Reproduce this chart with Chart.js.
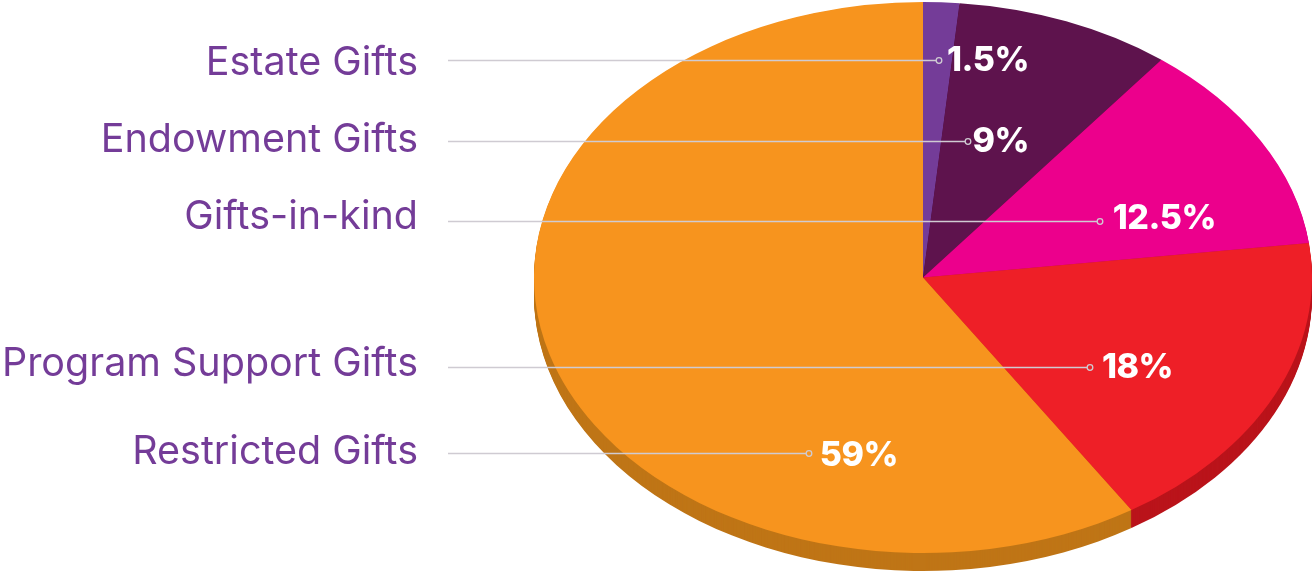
<!DOCTYPE html>
<html>
<head>
<meta charset="utf-8">
<title>Gifts</title>
<script src="https://cdn.jsdelivr.net/npm/chart.js@4"></script>
<style>
  html, body { margin: 0; padding: 0; background: #fff; }
  #wrap { width: 1312px; height: 572px; position: relative; overflow: hidden; }
</style>
</head>
<body>
<div id="wrap"><canvas id="pie" width="1312" height="572"></canvas></div>
<script>
const categories = ['Estate Gifts', 'Endowment Gifts', 'Gifts-in-kind', 'Program Support Gifts', 'Restricted Gifts'];
const shares = [1.5, 9, 12.5, 18, 59];
const shareLabels = ['1.5%', '9%', '12.5%', '18%', '59%'];
const sliceColors = ['#743C98', '#5E134D', '#EC008C', '#EE1F27', '#F7941E'];
const wallColors = ['#5A2D78', '#470E3A', '#B8006C', '#BA141B', '#BF7516'];

// annotation layout, not data
const leaderY = [60, 141, 221, 367, 453];
const leaderEndX = [939, 968, 1100, 1090, 809];
const labelBaseline = [75, 152, 229, 376, 464];
const shareRightX = [1029, 1029, 1216, 1173, 898];
const shareBaseline = [71, 151.5, 228.5, 378, 466];
const X_SQUASH = 389 / 275.5; // the pie is an ellipse, wider than tall
const DEPTH = 18;

function stretch(ctx, arc) {
  ctx.translate(arc.x, arc.y);
  ctx.scale(X_SQUASH, 1);
  ctx.translate(-arc.x, -arc.y);
}

const ellipsePlugin = {
  id: 'ellipse',
  beforeDatasetsDraw(chart) {
    const { ctx } = chart;
    const arcs = chart.getDatasetMeta(0).data;
    // extruded wall, swept down so the seams stay vertical
    arcs.forEach((arc, i) => {
      ctx.save();
      ctx.fillStyle = wallColors[i];
      for (let dy = DEPTH; dy >= 1; dy--) {
        ctx.save();
        ctx.translate(0, dy);
        stretch(ctx, arc);
        ctx.beginPath();
        ctx.moveTo(arc.x, arc.y);
        ctx.arc(arc.x, arc.y, arc.outerRadius, arc.startAngle, arc.endAngle);
        ctx.closePath();
        ctx.fill();
        ctx.restore();
      }
      ctx.restore();
    });
    ctx.save();
    stretch(ctx, arcs[0]);
  },
  afterDatasetsDraw(chart) {
    const { ctx } = chart;
    ctx.restore();
    ctx.save();
    categories.forEach((name, i) => {
      const y = leaderY[i], endX = leaderEndX[i];
      ctx.strokeStyle = '#CFCBD2';
      ctx.lineWidth = 1.3;
      ctx.beginPath();
      ctx.moveTo(448, y + 0.5);
      ctx.lineTo(endX - 3, y + 0.5);
      ctx.stroke();
      ctx.beginPath();
      ctx.arc(endX, y + 0.5, 2.8, 0, Math.PI * 2);
      ctx.stroke();

      ctx.fillStyle = '#743C98';
      ctx.font = '400 39.5px Inter';
      ctx.letterSpacing = '0px';
      ctx.textAlign = 'right';
      ctx.textBaseline = 'alphabetic';
      ctx.fillText(name, 418, labelBaseline[i]);

      ctx.fillStyle = '#fff';
      ctx.font = '800 34px Inter';
      ctx.letterSpacing = '-0.5px';
      ctx.textAlign = 'right';
      ctx.fillText(shareLabels[i], shareRightX[i], shareBaseline[i]);
    });
    ctx.restore();
  }
};

new Chart(document.getElementById('pie'), {
  type: 'pie',
  data: {
    labels: categories,
    datasets: [{ data: shares, backgroundColor: sliceColors, borderWidth: 0 }]
  },
  options: {
    responsive: false,
    animation: false,
    layout: { padding: { left: 534, right: 0, top: 2, bottom: 19 } },
    plugins: { legend: { display: false }, tooltip: { enabled: false } }
  },
  plugins: [ellipsePlugin]
});
</script>
</body>
</html>
